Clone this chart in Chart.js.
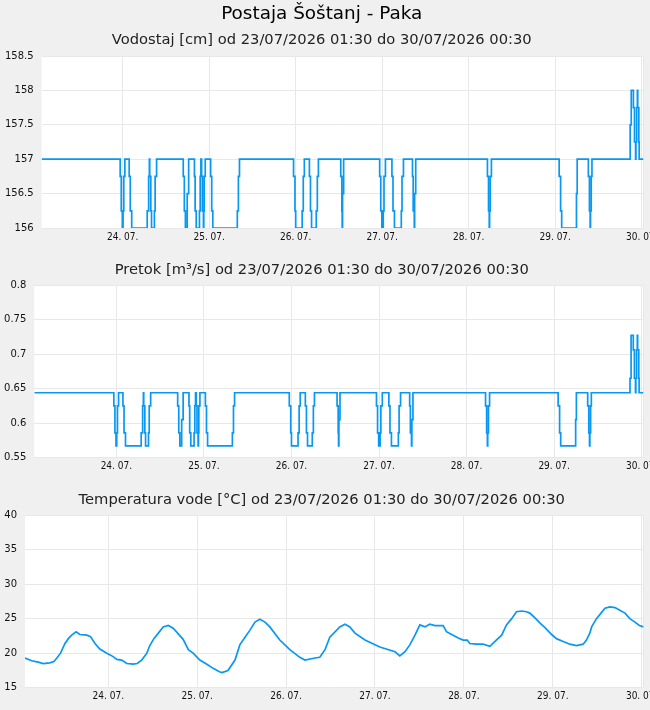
<!DOCTYPE html>
<html>
<head>
<meta charset="utf-8">
<script src="https://cdn.jsdelivr.net/npm/chart.js@4.4.0/dist/chart.umd.min.js"></script>
<style>
html, body { margin: 0; padding: 0; background: #f0f0f0; overflow: hidden; width: 650px; height: 710px; }
canvas { position: absolute; left: 0; }
</style>
</head>
<body>
<canvas id="c1" width="662" height="250" style="top:0px"></canvas>
<canvas id="c2" width="662" height="230" style="top:250px"></canvas>
<canvas id="c3" width="662" height="230" style="top:480px"></canvas>
<script>
// ure od 23/07/2026 01:30
const dayHours  = [22.5, 46.5, 70.5, 94.5, 118.5, 142.5, 166.5];
const dayLabels = ['24. 07.', '25. 07.', '26. 07.', '27. 07.', '28. 07.', '29. 07.', '30. 07.'];

// trenutki sprememb (ure) za vodostaj in pretok
const changeHours = [
    0, 21.8, 22.1, 22.4, 22.6, 22.8, 23.1,
    24.3, 24.6, 25.0,
    29.3, 29.7, 29.9, 30.0, 30.3, 30.5,
    31.3, 31.5, 31.9,
    39.3, 39.6, 39.9, 40.4, 40.8,
    42.4, 42.6, 42.9,
    43.8, 44.0, 44.2, 44.4, 44.6, 44.9, 45.0, 45.1, 45.4,
    46.9, 47.2, 47.5,
    54.3, 54.6, 54.9,
    69.9, 70.3, 70.5,
    72.3, 72.6, 72.9,
    74.3, 74.6, 74.9,
    76.2, 76.5, 76.8,
    83.0, 83.3, 83.4, 83.5, 83.8,
    93.8, 94.1, 94.4,
    94.8, 95.0, 95.4,
    97.2, 97.5, 97.9,
    99.8, 100.0, 100.4,
    102.9, 103.1, 103.4, 103.5, 103.8,
    123.7, 124.0, 124.2, 124.3, 124.5, 124.8,
    143.6, 144.0, 144.3,
    148.4, 148.6,
    151.7, 152.0, 152.2, 152.3, 152.5, 152.7,
    163.3, 163.6, 164.2, 164.5, 164.8, 164.9, 165.1, 165.3, 165.4, 165.7, 165.8,
    167
];
const vodostaj = [
    157, 156.75, 156.25, 156, 156.25, 156.75, 157,
    156.75, 156.25, 156,
    156.25, 156.75, 157, 156.75, 156.25, 156,
    156.25, 156.75, 157,
    156.75, 156.25, 156, 156.5, 157,
    156.75, 156.25, 156,
    156.25, 156.75, 157, 156.75, 156.25, 156, 156.25, 156.75, 157,
    156.75, 156.25, 156,
    156.25, 156.75, 157,
    156.75, 156.25, 156,
    156.25, 156.75, 157,
    156.75, 156.25, 156,
    156.25, 156.75, 157,
    156.75, 156.25, 156, 156.5, 157,
    156.75, 156.25, 156,
    156.25, 156.75, 157,
    156.75, 156.25, 156,
    156.25, 156.75, 157,
    156.75, 156.25, 156, 156.5, 157,
    156.75, 156.25, 156, 156.25, 156.75, 157,
    156.75, 156.25, 156,
    156.5, 157,
    156.75, 156.25, 156, 156.25, 156.75, 157,
    157.5, 158, 157.75, 157.25, 157, 157.25, 157.75, 158, 157.75, 157.25, 157,
    157
];
const pretok = [
    0.644, 0.625, 0.586, 0.567, 0.586, 0.625, 0.644,
    0.625, 0.586, 0.567,
    0.586, 0.625, 0.644, 0.625, 0.586, 0.567,
    0.586, 0.625, 0.644,
    0.625, 0.586, 0.567, 0.605, 0.644,
    0.625, 0.586, 0.567,
    0.586, 0.625, 0.644, 0.625, 0.586, 0.567, 0.586, 0.625, 0.644,
    0.625, 0.586, 0.567,
    0.586, 0.625, 0.644,
    0.625, 0.586, 0.567,
    0.586, 0.625, 0.644,
    0.625, 0.586, 0.567,
    0.586, 0.625, 0.644,
    0.625, 0.586, 0.567, 0.605, 0.644,
    0.625, 0.586, 0.567,
    0.586, 0.625, 0.644,
    0.625, 0.586, 0.567,
    0.586, 0.625, 0.644,
    0.625, 0.586, 0.567, 0.605, 0.644,
    0.625, 0.586, 0.567, 0.586, 0.625, 0.644,
    0.625, 0.586, 0.567,
    0.605, 0.644,
    0.625, 0.586, 0.567, 0.586, 0.625, 0.644,
    0.665, 0.727, 0.706, 0.665, 0.644, 0.665, 0.706, 0.727, 0.706, 0.665, 0.644,
    0.644
];

// temperatura vode
const tempHours = [
    0, 1.8, 3.6, 4.9, 6.7, 7.8, 8.6, 9.6, 10.8, 11.7, 12.6, 13.8, 14.8, 16.7, 17.7, 18.9, 20.2, 22.1,
    23.8, 24.8, 26.1, 27.5, 29.2, 30.3, 31.5, 32.9, 33.7, 34.8, 36.0, 37.3, 38.7, 40.0, 41.4, 42.7,
    44.1, 45.4, 47.2, 49.1, 50.8, 52.5, 53.2, 54.8, 56.7, 58.0, 59.4, 60.7, 62.1, 63.4, 64.8, 66.1,
    68.8, 71.5, 74.2, 75.6, 78.3, 79.6, 81.0, 82.3, 85.0, 86.4, 87.7, 89.1, 91.8, 95.8, 99.9, 101.2,
    102.6, 103.9, 105.3, 106.6, 108.0, 109.3, 110.7, 112.9, 113.8, 115.2, 117.0, 118.3, 119.4, 120.1,
    121.9, 123.7, 125.5, 126.9, 128.7, 130.0, 131.4, 132.7, 134.1, 135.4, 136.3, 137.7, 139.0, 140.4,
    142.2, 143.5, 145.3, 147.1, 148.9, 150.7, 151.6, 152.5, 153.0, 154.3, 155.7, 156.6, 157.9, 159.3,
    160.6, 162.0, 163.3, 164.7, 165.9, 167
];
const temperatura = [
    19.3, 18.9, 18.7, 18.5, 18.6, 18.8, 19.3, 20.0, 21.4, 22.1, 22.6, 23.1, 22.7, 22.6, 22.4, 21.4, 20.6, 20.0,
    19.5, 19.1, 19.0, 18.5, 18.4, 18.5, 19.0, 20.0, 21.1, 22.1, 22.9, 23.8, 24.0, 23.6, 22.8, 22.0,
    20.5, 20.0, 19.0, 18.4, 17.8, 17.3, 17.2, 17.5, 19.0, 21.2, 22.3, 23.3, 24.5, 24.9, 24.5, 23.8,
    21.9, 20.5, 19.4, 19.0, 19.3, 19.4, 20.5, 22.3, 23.8, 24.2, 23.8, 22.9, 21.9, 20.9, 20.2, 19.6,
    20.2, 21.2, 22.6, 24.1, 23.8, 24.2, 24.0, 24.0, 23.1, 22.7, 22.2, 21.9, 21.9, 21.4,
    21.3, 21.3, 21.0, 21.7, 22.6, 24.1, 25.0, 26.0, 26.1, 26.0, 25.8, 25.1, 24.4, 23.7,
    22.7, 22.1, 21.7, 21.3, 21.1, 21.3, 21.9, 22.9, 23.8, 25.0, 25.9, 26.5, 26.7, 26.6,
    26.2, 25.8, 25.0, 24.5, 24.0, 23.8
];

Chart.defaults.font.family = 'DejaVu Sans';
Chart.defaults.color = '#111';

const LINE = '#0898f2';
const GRID = '#e8e8e8';
const subtitleFont = { family: 'DejaVu Sans', size: 14.7, weight: 'normal' };

// belo ozadje risalne ploskve
const plotBg = {
    id: 'plotBg',
    beforeDraw(chart) {
        const a = chart.chartArea;
        chart.ctx.save();
        chart.ctx.fillStyle = '#fff';
        chart.ctx.fillRect(a.left, a.top, a.right - a.left, a.bottom - a.top);
        chart.ctx.restore();
    }
};

function points(xs, ys) {
    return xs.map((x, i) => ({ x: x, y: ys[i] }));
}

function makeChart(id, opts) {
    return new Chart(document.getElementById(id), {
        type: 'line',
        data: {
            datasets: [{
                data: opts.data,
                borderColor: LINE,
                borderWidth: 1.7,
                pointRadius: 0,
                stepped: opts.stepped ? 'before' : false,
                tension: 0,
                fill: false
            }]
        },
        options: {
            responsive: false,
            animation: false,
            devicePixelRatio: 1,
            layout: { padding: { right: 18.5, left: 0, top: 0, bottom: 0 } },
            plugins: {
                legend: { display: false },
                tooltip: { enabled: false },
                title: opts.title,
                subtitle: opts.subtitle || { display: false }
            },
            scales: {
                x: {
                    type: 'linear',
                    min: 0,
                    max: 167,
                    border: { display: false },
                    grid: { color: GRID, drawTicks: false },
                    afterBuildTicks: (s) => { s.ticks = dayHours.concat([167]).map(v => ({ value: v })); },
                    afterFit: (s) => { s.height = opts.xHeight; },
                    ticks: {
                        autoSkip: false,
                        maxRotation: 0,
                        padding: 3,
                        font: { family: 'DejaVu Sans Condensed', size: 10 },
                        callback: (v, i) => (i < dayLabels.length ? dayLabels[i] : '')
                    }
                },
                y: {
                    min: opts.yMin,
                    max: opts.yMax,
                    border: { display: false },
                    grid: { color: GRID, drawTicks: false },
                    afterFit: (s) => { s.width = opts.yWidth; },
                    ticks: {
                        stepSize: opts.yStep,
                        padding: 8,
                        font: { size: 10 },
                        callback: (v) => String(Math.round(v * 1000) / 1000)
                    }
                }
            }
        },
        plugins: [plotBg]
    });
}

makeChart('c1', {
    data: points(changeHours, vodostaj),
    stepped: true,
    yMin: 156, yMax: 158.5, yStep: 0.5, yWidth: 41.6, xHeight: 22,
    title: {
        display: true,
        text: 'Postaja Šoštanj - Paka',
        color: '#000',
        font: { family: 'DejaVu Sans', size: 18.4, weight: 'normal' },
        padding: { top: 3, bottom: 6.6 }
    },
    subtitle: {
        display: true,
        text: 'Vodostaj [cm] od 23/07/2026 01:30 do 30/07/2026 00:30',
        color: '#222',
        font: subtitleFont,
        padding: { top: 0, bottom: 6.7 }
    }
});

makeChart('c2', {
    data: points(changeHours, pretok),
    stepped: true,
    yMin: 0.55, yMax: 0.8, yStep: 0.05, yWidth: 34.3, xHeight: 22.3,
    title: {
        display: true,
        text: 'Pretok [m³/s] od 23/07/2026 01:30 do 30/07/2026 00:30',
        color: '#222',
        font: subtitleFont,
        padding: { top: 11.5, bottom: 5.86 }
    }
});

makeChart('c3', {
    data: points(tempHours, temperatura),
    stepped: false,
    yMin: 15, yMax: 40, yStep: 5, yWidth: 25, xHeight: 22.3,
    title: {
        display: true,
        text: 'Temperatura vode [°C] od 23/07/2026 01:30 do 30/07/2026 00:30',
        color: '#222',
        font: subtitleFont,
        padding: { top: 11.2, bottom: 6.16 }
    }
});
</script>
</body>
</html>
